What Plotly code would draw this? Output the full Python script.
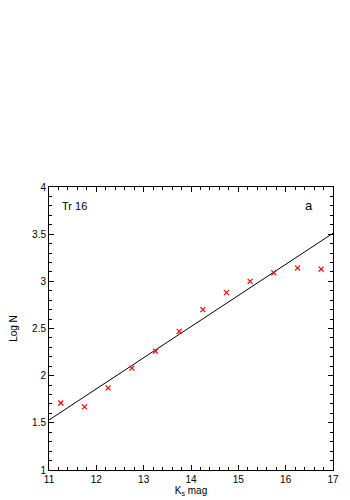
import plotly.graph_objects as go

# star counts: Ks magnitude bins vs log N
ks_mag = [11.25, 11.75, 12.25, 12.75, 13.25, 13.75, 14.25, 14.75, 15.25, 15.75, 16.25, 16.75]
log_n = [1.71, 1.67, 1.87, 2.08, 2.26, 2.47, 2.70, 2.88, 3.00, 3.09, 3.14, 3.13]

# linear fit endpoints
fit_x = [11, 17]
fit_y = [1.53, 3.51]

family = "Liberation Sans, Arial, sans-serif"
tick_font = dict(family=family, size=10, color="black")
title_font = dict(family=family, size=10, color="black")

fig = go.Figure()

fig.add_trace(go.Scatter(x=fit_x, y=fit_y, mode="lines",
                         line=dict(color="black", width=1), showlegend=False))
fig.add_trace(go.Scatter(x=ks_mag, y=log_n, mode="markers",
                         marker=dict(symbol="x-thin", size=5, color="red",
                                     line=dict(color="red", width=1.2)),
                         showlegend=False))

fig.add_annotation(text="Tr 16", x=0.04, y=0.933, xref="paper", yref="paper",
                   xanchor="left", yanchor="middle", showarrow=False,
                   font=dict(family=family, size=11, color="black"))
fig.add_annotation(text="a", x=0.915, y=0.933, xref="paper", yref="paper",
                   xanchor="center", yanchor="middle", showarrow=False,
                   font=dict(family=family, size=13, color="black"))

axis_common = dict(showgrid=False, zeroline=False, showline=True, linecolor="black",
                   linewidth=1, mirror="allticks", ticks="inside", ticklen=5,
                   tickwidth=1, tickcolor="black", tickfont=tick_font, automargin=False)

fig.update_xaxes(range=[11, 17], dtick=1, tick0=11,
                 minor=dict(dtick=0.2, ticks="inside", ticklen=3, tickcolor="black"),
                 title=dict(text="K<sub>s</sub> mag", font=title_font, standoff=0),
                 **axis_common)
fig.update_yaxes(range=[1, 4], dtick=0.5, tick0=1,
                 minor=dict(dtick=0.1, ticks="inside", ticklen=3, tickcolor="black"),
                 title=dict(text="Log N", font=title_font, standoff=14),
                 **axis_common)

# page body adds an 8px offset, so the figure is 342x492
fig.update_layout(width=342, height=492, paper_bgcolor="white", plot_bgcolor="white",
                  margin=dict(l=41, r=17, t=179, b=30))

fig.write_html("out.html")
